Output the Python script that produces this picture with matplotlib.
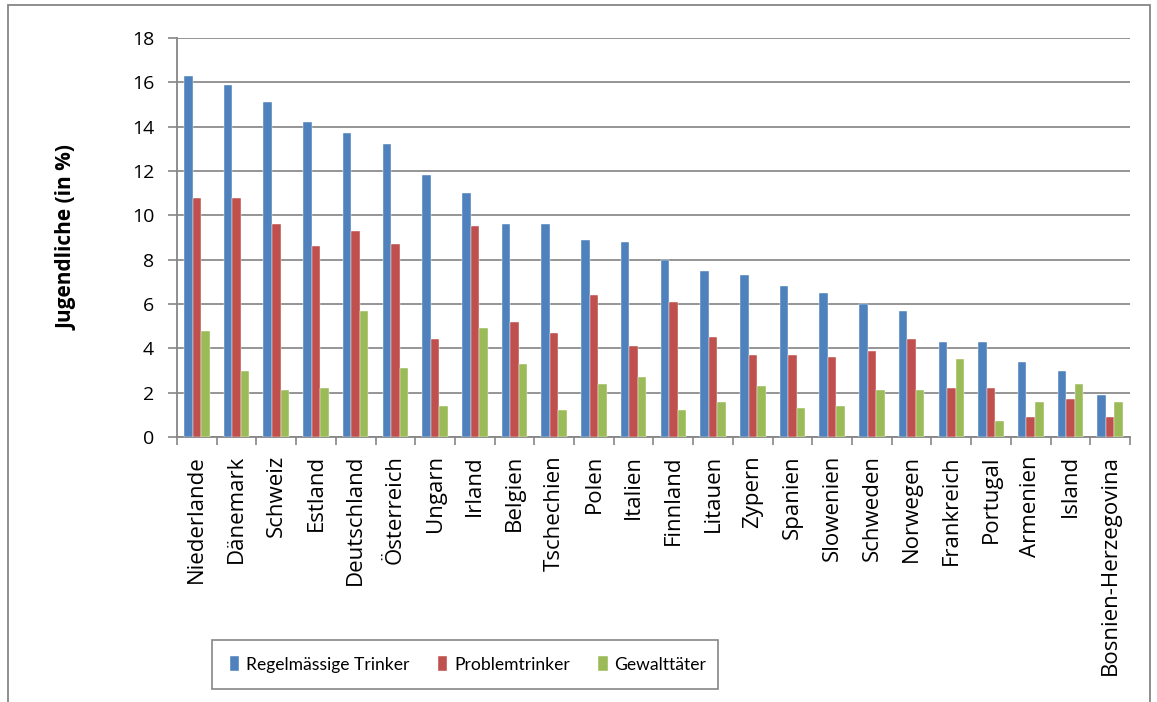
import numpy as np
import matplotlib
matplotlib.use("Agg")
import matplotlib.pyplot as plt
from matplotlib.patches import Rectangle

countries = ["Niederlande", "Dänemark", "Schweiz", "Estland", "Deutschland", "Österreich",
             "Ungarn", "Irland", "Belgien", "Tschechien", "Polen", "Italien", "Finnland",
             "Litauen", "Zypern", "Spanien", "Slowenien", "Schweden", "Norwegen",
             "Frankreich", "Portugal", "Armenien", "Island", "Bosnien-Herzegovina"]
regel = [16.3, 15.9, 15.1, 14.2, 13.7, 13.2, 11.8, 11.0, 9.6, 9.6, 8.9, 8.8, 8.0,
         7.5, 7.3, 6.8, 6.5, 6.0, 5.7, 4.3, 4.3, 3.4, 3.0, 1.9]
problem = [10.8, 10.8, 9.6, 8.6, 9.3, 8.7, 4.4, 9.5, 5.2, 4.7, 6.4, 4.1, 6.1,
           4.5, 3.7, 3.7, 3.6, 3.9, 4.4, 2.2, 2.2, 0.9, 1.7, 0.9]
gewalt = [4.8, 3.0, 2.1, 2.2, 5.7, 3.1, 1.4, 4.9, 3.3, 1.2, 2.4, 2.7, 1.2,
          1.6, 2.3, 1.3, 1.4, 2.1, 2.1, 3.5, 0.7, 1.6, 2.4, 1.6]
series_names = ["Regelmässige Trinker", "Problemtrinker", "Gewalttäter"]
colors = ["#4F81BD", "#C0504D", "#9BBB59"]

plt.rcParams['font.family'] = ['Open Sans', 'DejaVu Sans']

fig = plt.figure(figsize=(11.57, 7.02), dpi=100)
ax = fig.add_axes([177/1157, 1 - 437/702, (1130-177)/1157, (437-38)/702])

x = np.arange(len(countries))
w = 0.215
for i, (vals, name, c) in enumerate(zip([regel, problem, gewalt], series_names, colors)):
    ax.bar(x + (i - 1) * w, vals, width=w, color=c, label=name, zorder=3,
           edgecolor="white", linewidth=0.3)

ax.set_xlim(-0.5, len(countries) - 0.5)
ax.set_ylim(0, 18)
ax.set_yticks(range(0, 19, 2))
ax.tick_params(axis='y', labelsize=14, length=6.5, color="#868686", width=1.2, pad=10)
ax.set_xticks(x)
ax.set_xticklabels(countries, rotation=90, fontsize=16)
ax.tick_params(axis='x', length=0, pad=13)
ax.set_xticks(np.arange(-0.5, len(countries), 1), minor=True)
ax.tick_params(axis='x', which='minor', length=6, color="#868686", width=1.2)

ax.grid(axis='y', color="#8c8c8c", linewidth=1.3, zorder=0)
for s in ["top", "right"]:
    ax.spines[s].set_visible(False)
for s in ["left", "bottom"]:
    ax.spines[s].set_color("#868686")
    ax.spines[s].set_linewidth(1.3)

ax.set_ylabel("Jugendliche (in %)", fontsize=15, fontweight='bold')
ax.yaxis.set_label_coords(-0.104, 0.5)

# legend without own frame, box drawn separately
leg = fig.legend(loc="center", bbox_to_anchor=(468/1157, 1 - 664.5/702),
                 ncol=3, frameon=False,
                 prop={'family': ['Lato', 'DejaVu Sans'], 'size': 12.6},
                 handlelength=0.55, handleheight=0.9, handletextpad=0.4, columnspacing=1.6)
fig.patches.append(Rectangle((212/1157, 1 - 689/702), (718-212)/1157, 49/702, transform=fig.transFigure,
                             fill=False, edgecolor="#868686", linewidth=1.2))

fig.patches.append(Rectangle((8/1157, -0.01), (1150-8)/1157, 1.01 - 5/702, transform=fig.transFigure,
                             fill=False, edgecolor="#868686", linewidth=1.3))

fig.savefig("out.png", dpi=100)
